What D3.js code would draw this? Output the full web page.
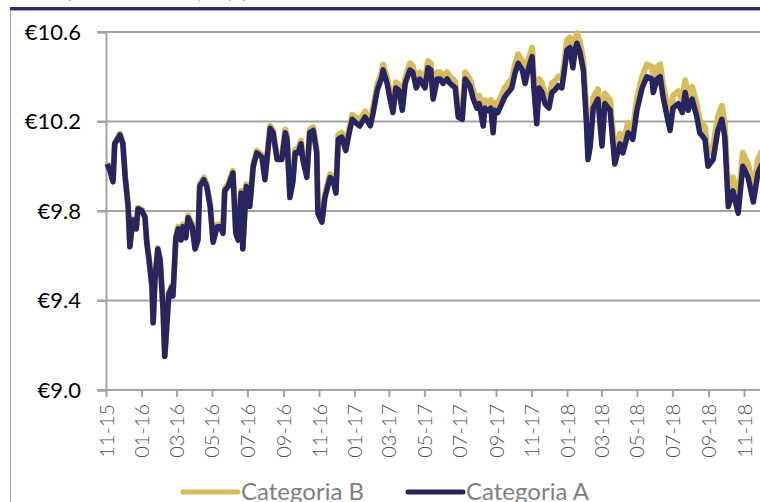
<!DOCTYPE html>
<html>
<head>
<meta charset="utf-8">
<script src="https://cdn.jsdelivr.net/npm/d3@7"></script>
<style>
  html, body { margin: 0; padding: 0; background: #fff; }
  svg { display: block; font-family: Lato, "Noto Sans", sans-serif; }
</style>
</head>
<body>
<svg id="chart" width="760" height="502"></svg>
<script>
// values (unit price, EUR)
const dates = [
  "2015-11-03","2015-11-08","2015-11-13","2015-11-16","2015-11-25","2015-11-30","2015-12-04","2015-12-09","2015-12-12","2015-12-17",
  "2015-12-23","2015-12-26","2016-01-02","2016-01-07","2016-01-10","2016-01-14","2016-01-19","2016-01-21","2016-01-24","2016-01-29",
  "2016-02-02","2016-02-07","2016-02-10","2016-02-14","2016-02-17","2016-02-22","2016-02-24","2016-02-29","2016-03-04","2016-03-09",
  "2016-03-12","2016-03-17","2016-03-21","2016-03-28","2016-04-02","2016-04-07","2016-04-10","2016-04-17","2016-04-22","2016-04-28",
  "2016-05-03","2016-05-10","2016-05-15","2016-05-20","2016-05-23","2016-05-29","2016-06-06","2016-06-11","2016-06-15","2016-06-20",
  "2016-06-23","2016-06-29","2016-07-05","2016-07-11","2016-07-17","2016-07-26","2016-07-31","2016-08-09","2016-08-14","2016-08-21",
  "2016-08-29","2016-09-04","2016-09-07","2016-09-12","2016-09-17","2016-09-21","2016-09-26","2016-10-01","2016-10-04","2016-10-11",
  "2016-10-16","2016-10-22","2016-10-28","2016-10-30","2016-11-06","2016-11-11","2016-11-20","2016-11-25","2016-11-30","2016-12-04",
  "2016-12-10","2016-12-17","2016-12-22","2016-12-28","2017-01-05","2017-01-10","2017-01-19","2017-01-28","2017-02-02","2017-02-09",
  "2017-02-17","2017-02-19","2017-02-26","2017-03-03","2017-03-08","2017-03-13","2017-03-18","2017-03-24","2017-03-29","2017-04-06",
  "2017-04-11","2017-04-17","2017-04-23","2017-05-02","2017-05-07","2017-05-12","2017-05-16","2017-05-23","2017-05-28","2017-06-02",
  "2017-06-09","2017-06-14","2017-06-23","2017-06-28","2017-07-05","2017-07-10","2017-07-18","2017-07-24","2017-07-30","2017-08-03",
  "2017-08-10","2017-08-13","2017-08-18","2017-08-23","2017-08-27","2017-08-30","2017-09-04","2017-09-11","2017-09-16","2017-09-22",
  "2017-09-28","2017-10-04","2017-10-09","2017-10-16","2017-10-21","2017-10-26","2017-11-02","2017-11-05","2017-11-10","2017-11-14",
  "2017-11-19","2017-11-24","2017-12-01","2017-12-06","2017-12-11","2017-12-17","2017-12-23","2017-12-27","2018-01-01","2018-01-06",
  "2018-01-11","2018-01-15","2018-01-18","2018-01-23","2018-01-29","2018-02-03","2018-02-06","2018-02-10","2018-02-15","2018-02-23",
  "2018-03-02","2018-03-07","2018-03-16","2018-03-24","2018-04-02","2018-04-07","2018-04-16","2018-04-24","2018-05-01","2018-05-10",
  "2018-05-18","2018-05-27","2018-05-29","2018-06-05","2018-06-10","2018-06-15","2018-06-22","2018-06-27","2018-07-02","2018-07-11",
  "2018-07-18","2018-07-23","2018-07-28","2018-08-04","2018-08-12","2018-08-17","2018-08-26","2018-08-31","2018-09-09","2018-09-17",
  "2018-09-24","2018-09-29","2018-10-05","2018-10-13","2018-10-22","2018-10-30","2018-11-08","2018-11-17","2018-11-25","2018-12-02"
];

const catA = [
  10.01,9.98,9.93,10.10,10.14,10.10,9.95,9.82,9.64,9.76,
  9.72,9.81,9.80,9.77,9.66,9.58,9.46,9.30,9.49,9.63,
  9.58,9.36,9.15,9.31,9.43,9.46,9.42,9.68,9.72,9.67,
  9.73,9.68,9.77,9.73,9.63,9.67,9.91,9.94,9.91,9.82,
  9.66,9.73,9.73,9.70,9.89,9.91,9.97,9.70,9.67,9.88,
  9.63,9.91,9.82,10.00,10.06,10.04,9.94,10.17,10.15,10.03,
  10.03,10.15,10.12,9.86,9.93,10.06,10.06,10.10,10.03,9.95,
  10.15,10.16,10.06,9.79,9.75,9.86,9.95,9.94,9.88,10.12,
  10.13,10.07,10.14,10.21,10.19,10.18,10.22,10.18,10.24,10.34,
  10.40,10.43,10.37,10.30,10.24,10.35,10.34,10.25,10.37,10.43,
  10.42,10.35,10.39,10.35,10.44,10.43,10.30,10.39,10.39,10.37,
  10.39,10.37,10.35,10.22,10.21,10.39,10.36,10.30,10.26,10.28,
  10.18,10.26,10.25,10.26,10.15,10.25,10.24,10.28,10.31,10.33,
  10.35,10.42,10.46,10.43,10.37,10.43,10.49,10.35,10.19,10.35,
  10.33,10.28,10.26,10.33,10.34,10.36,10.35,10.42,10.52,10.53,
  10.44,10.52,10.55,10.51,10.43,10.21,10.03,10.09,10.26,10.30,
  10.09,10.28,10.25,10.01,10.10,10.06,10.15,10.12,10.25,10.35,
  10.40,10.39,10.33,10.39,10.40,10.31,10.22,10.16,10.26,10.28,
  10.24,10.33,10.25,10.30,10.22,10.15,10.12,10.00,10.03,10.16,
  10.21,10.13,9.82,9.89,9.79,10.00,9.95,9.84,9.97,10.01
];

const catB = [
  10.015,9.985,9.935,10.105,10.145,10.105,9.955,9.825,9.645,9.765,
  9.725,9.815,9.805,9.775,9.665,9.585,9.465,9.305,9.495,9.635,
  9.585,9.365,9.155,9.315,9.435,9.465,9.425,9.685,9.73,9.68,
  9.74,9.69,9.78,9.74,9.64,9.68,9.92,9.95,9.92,9.83,
  9.67,9.74,9.74,9.71,9.90,9.92,9.98,9.71,9.68,9.89,
  9.64,9.92,9.83,10.01,10.07,10.05,9.95,10.18,10.16,10.04,
  10.04,10.165,10.135,9.875,9.945,10.075,10.075,10.115,10.045,9.965,
  10.165,10.175,10.075,9.805,9.765,9.875,9.965,9.955,9.895,10.14,
  10.15,10.09,10.16,10.23,10.215,10.205,10.245,10.205,10.265,10.365,
  10.425,10.455,10.395,10.325,10.265,10.375,10.365,10.275,10.395,10.46,
  10.45,10.38,10.42,10.38,10.47,10.46,10.33,10.42,10.42,10.40,
  10.42,10.40,10.38,10.25,10.24,10.42,10.39,10.335,10.295,10.315,
  10.215,10.295,10.285,10.295,10.185,10.285,10.28,10.32,10.35,10.37,
  10.39,10.46,10.50,10.47,10.41,10.47,10.53,10.39,10.23,10.39,
  10.37,10.32,10.30,10.37,10.38,10.40,10.39,10.46,10.565,10.575,
  10.485,10.565,10.595,10.555,10.475,10.255,10.075,10.135,10.305,10.345,
  10.135,10.325,10.295,10.055,10.145,10.105,10.195,10.165,10.30,10.40,
  10.455,10.445,10.385,10.445,10.455,10.365,10.275,10.215,10.315,10.335,
  10.295,10.385,10.305,10.355,10.275,10.205,10.175,10.055,10.09,10.22,
  10.27,10.19,9.88,9.95,9.85,10.06,10.01,9.90,10.03,10.07
];

const yTicks = [9.0, 9.4, 9.8, 10.2, 10.6];
const seriesNames = ["Categoria B", "Categoria A"];
const seriesColors = ["#d8bb5c", "#27245f"];

const parseDate = d3.timeParse("%Y-%m-%d");
const rows = dates.map((d, i) => ({ date: parseDate(d), a: catA[i], b: catB[i] }));

const svg = d3.select("#chart");

// frame bits from the surrounding document (title cut off at the top)
svg.append("text")
  .attr("x", 40).attr("y", -1)
  .attr("font-size", 11).attr("fill", "#8a8ab4")
  .text("Evolução do valor da unidade de participação");
svg.append("line").attr("x1", 10).attr("x2", 760).attr("y1", 8.5).attr("y2", 8.5)
  .attr("stroke", "#2e2d6a").attr("stroke-width", 3);
svg.append("line").attr("x1", 10).attr("x2", 760).attr("y1", 10.5).attr("y2", 10.5)
  .attr("stroke", "#a0a0a0").attr("stroke-width", 1);
svg.append("line").attr("x1", 10.5).attr("x2", 10.5).attr("y1", 10).attr("y2", 502)
  .attr("stroke", "#a0a0a0").attr("stroke-width", 1);

const x = d3.scaleTime()
  .domain([new Date(2015, 10, 1), new Date(2018, 10, 1)])
  .range([106, 744]);

const y = d3.scaleLinear()
  .domain([9.0, 10.6])
  .range([390, 32]);

// gridlines
svg.append("g")
  .selectAll("line")
  .data(yTicks)
  .join("line")
  .attr("x1", 97).attr("x2", 760)
  .attr("y1", d => y(d)).attr("y2", d => y(d))
  .attr("stroke", "#a3a3a3").attr("stroke-width", 2);

// y axis
const yAxis = svg.append("g")
  .attr("transform", "translate(106,0)")
  .call(d3.axisLeft(y).tickValues(yTicks).tickSize(9).tickPadding(16)
    .tickFormat(d => "€" + d3.format(".1f")(d)));
yAxis.select(".domain").attr("stroke", "#a3a3a3").attr("stroke-width", 2);
yAxis.selectAll(".tick line").attr("stroke", "#a3a3a3").attr("stroke-width", 2);
yAxis.selectAll("text")
  .attr("font-size", 22).attr("fill", "#000")
  .attr("font-family", "Lato, 'Noto Sans', sans-serif");

// x axis, every two months
const xTicks = d3.timeMonth.every(2).range(new Date(2015, 10, 1), new Date(2018, 10, 2));
const xAxis = svg.append("g")
  .attr("transform", "translate(0,390)")
  .call(d3.axisBottom(x).tickValues(xTicks).tickSize(7).tickSizeOuter(0)
    .tickFormat(d3.timeFormat("%m-%y")));
xAxis.select(".domain").attr("stroke", "#a3a3a3").attr("stroke-width", 2).attr("d", "M97,0H760");
xAxis.selectAll(".tick line").attr("stroke", "#a3a3a3").attr("stroke-width", 2);
xAxis.selectAll("text")
  .attr("font-size", 20).attr("fill", "#4f4f4f")
  .attr("font-weight", 300)
  .attr("font-family", "Lato, 'Noto Sans', sans-serif")
  .attr("text-anchor", "end")
  .attr("dy", "0.35em")
  .attr("transform", "translate(0,14) rotate(-90)")
  .attr("x", 0).attr("y", 0);

// lines: B under A
const lineB = d3.line().x(d => x(d.date)).y(d => y(d.b));
const lineA = d3.line().x(d => x(d.date)).y(d => y(d.a));

svg.append("path")
  .datum(rows)
  .attr("fill", "none")
  .attr("stroke", seriesColors[0])
  .attr("stroke-width", 6)
  .attr("stroke-linejoin", "round")
  .attr("d", lineB);

svg.append("path")
  .datum(rows)
  .attr("fill", "none")
  .attr("stroke", seriesColors[1])
  .attr("stroke-width", 5.5)
  .attr("stroke-linejoin", "round")
  .attr("d", lineA);

// legend at the bottom
const legendX = [183, 408];
const legend = svg.append("g")
  .selectAll("g")
  .data(seriesNames)
  .join("g")
  .attr("transform", (d, i) => `translate(${legendX[i]},492)`);
legend.append("line")
  .attr("x1", 0).attr("x2", 55)
  .attr("stroke", (d, i) => seriesColors[i])
  .attr("stroke-width", 5)
  .attr("stroke-linecap", "round");
legend.append("text")
  .attr("x", 58).attr("y", 8)
  .attr("font-size", 24).attr("fill", "#7f7f7f")
  .text(d => d);
</script>
</body>
</html>
